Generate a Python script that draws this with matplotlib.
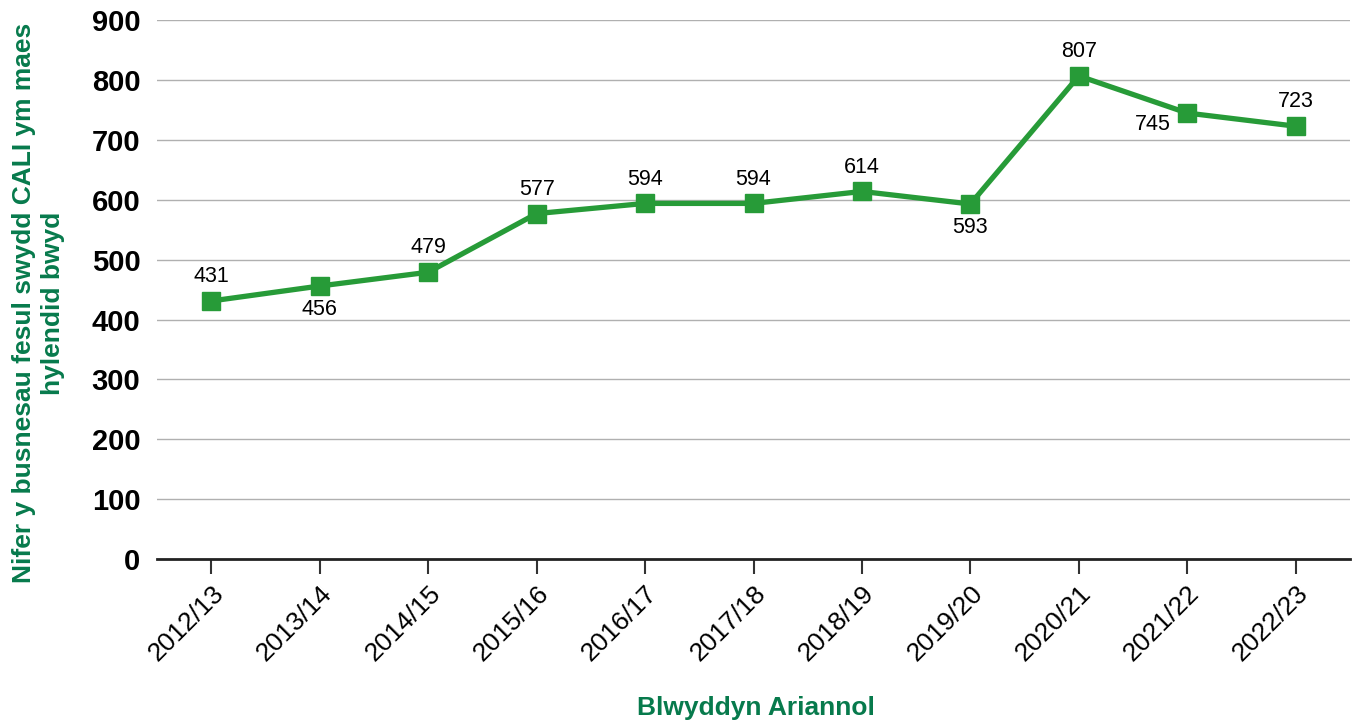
import matplotlib
matplotlib.use('Agg')
import matplotlib.pyplot as plt
from matplotlib import rcParams

rcParams['font.family'] = 'sans-serif'
rcParams['font.sans-serif'] = ['Liberation Sans', 'DejaVu Sans']

years = ['2012/13', '2013/14', '2014/15', '2015/16', '2016/17', '2017/18',
         '2018/19', '2019/20', '2020/21', '2021/22', '2022/23']
values = [431, 456, 479, 577, 594, 594, 614, 593, 807, 745, 723]
# where each value label sits relative to its marker
label_pos = ['above', 'below', 'above', 'above', 'above', 'above',
             'above', 'below', 'above', 'left', 'above']

line_green = '#279b38'
title_green = '#077a4c'

fig = plt.figure(figsize=(13.54, 7.24), dpi=100)
ax = fig.add_axes([0.116, 0.228, 0.881, 0.744])

x = list(range(len(years)))
ax.plot(x, values, color=line_green, linewidth=3.8, marker='s',
        markersize=13, zorder=3)

for xi, v, pos in zip(x, values, label_pos):
    if pos == 'above':
        ax.annotate(str(v), (xi, v), xytext=(0, 10), textcoords='offset points',
                    ha='center', va='bottom', fontsize=15.5)
    elif pos == 'below':
        ax.annotate(str(v), (xi, v), xytext=(0, -9), textcoords='offset points',
                    ha='center', va='top', fontsize=15.5)
    else:
        ax.annotate(str(v), (xi, v), xytext=(-25, -8.5), textcoords='offset points',
                    ha='center', va='center', fontsize=15.5)

ax.set_xlim(-0.5, len(years) - 0.5)
ax.set_ylim(0, 900)
ax.set_yticks(range(0, 901, 100))
ax.set_xticks(x)
ax.set_xticklabels(years, rotation=45, ha='right', rotation_mode='anchor',
                   fontsize=19)
for lbl in ax.get_yticklabels():
    lbl.set_fontsize(21)
    lbl.set_fontweight('bold')

ax.grid(axis='y', color='#b0b0b0', linewidth=1)
ax.set_axisbelow(True)
for side in ['left', 'right', 'top']:
    ax.spines[side].set_visible(False)
ax.spines['bottom'].set_color('#222222')
ax.spines['bottom'].set_linewidth(2)
ax.tick_params(axis='y', length=0, pad=12)
ax.tick_params(axis='x', length=11, width=1.5, color='#333333', pad=5)

ax.set_ylabel('Nifer y busnesau fesul swydd CALI ym maes\nhylendid bwyd',
              fontsize=19, fontweight='bold', color=title_green,
              linespacing=1.25)
ax.yaxis.set_label_coords(-0.077, 0.475)
fig.text(0.558, 0.022, 'Blwyddyn Ariannol', ha='center', va='center',
         fontsize=19, fontweight='bold', color=title_green)

fig.savefig('out.png', dpi=100)
